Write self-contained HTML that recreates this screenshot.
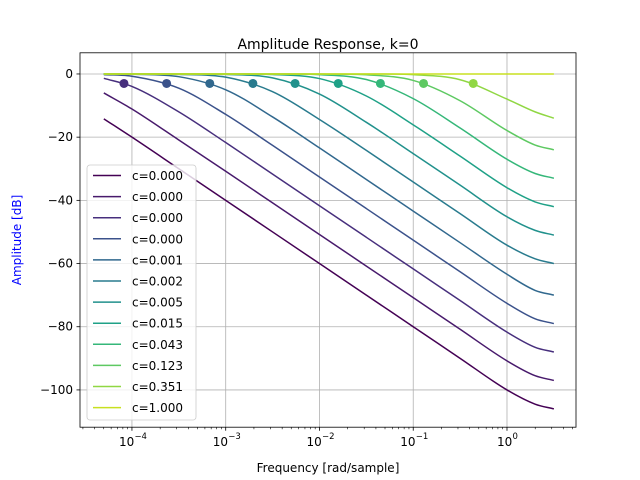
<!DOCTYPE html>
<html><head><meta charset="utf-8"><style>
body{margin:0;background:#fff;}
svg{display:block;font-family:"DejaVu Sans","Liberation Sans",sans-serif;}
</style></head><body>
<svg id="chart" width="640" height="480" xmlns="http://www.w3.org/2000/svg">
<rect width="640" height="480" fill="#fff"/>
<text x="328" y="49" text-anchor="middle" font-size="14">Amplitude Response, k=0</text>
<text x="328" y="472" text-anchor="middle" font-size="12">Frequency [rad/sample]</text>
<text x="0" y="0" transform="translate(21,240) rotate(-90)" text-anchor="middle" font-size="12" fill="#0000ff">Amplitude [dB]</text>
<g id="grid"></g><g id="series"></g><g id="axes"></g><g id="legend"></g>
</svg>
<script>
const logFreqs=[-4.3,-4,-3.5,-3,-2.5,-2,-1.5,-1,-0.5,0,0.3,0.5];
const s0=[-14.2,-20,-30,-40,-50,-60,-70,-80,-90,-100,-104.5,-106];
const s1=[-6,-11.1,-20.9,-30.8,-40.8,-50.8,-60.8,-70.8,-80.8,-90.8,-95.5,-97];
const s2=[-1.37,-3.94,-12,-21.7,-31.7,-41.7,-51.7,-61.7,-71.7,-81.7,-86.5,-88];
const s3=[-0.19,-0.72,-4.5,-12.8,-22.6,-32.6,-42.6,-52.6,-62.6,-72.6,-77.5,-79];
const s4=[0,-0.09,-0.86,-5,-13.6,-23.4,-33.4,-43.4,-53.4,-63.4,-68.5,-70];
const s5=[0,0,-0.11,-1,-5.6,-14.4,-24.2,-34.2,-44.2,-54.2,-58.5,-60];
const s6=[0,0,0,-0.14,-1.24,-6.35,-15.3,-25.2,-35.2,-45.2,-49.5,-51];
const s7=[0,0,0,0,-0.17,-1.46,-6.97,-16.1,-26,-36,-40.5,-42];
const s8=[0,0,0,0,-0.02,-0.21,-1.76,-7.8,-17.1,-27,-31.5,-33];
const s9=[0,0,0,0,0,-0.03,-0.26,-2.05,-8.47,-17.9,-22.5,-24];
const s10=[0,0,0,0,0,0,-0.02,-0.22,-1.83,-7.96,-12,-14];
const s11=[0,0,0,0,0,0,0,0,0,0,0,0];
const seriesValues=[s0,s1,s2,s3,s4,s5,s6,s7,s8,s9,s10,s11];
const seriesLabels=["c=0.000","c=0.000","c=0.000","c=0.000","c=0.001","c=0.002","c=0.005","c=0.015","c=0.043","c=0.123","c=0.351","c=1.000"];
const markerLogFreqs=[-4.085,-3.63,-3.17,-2.71,-2.26,-1.80,-1.35,-0.89,-0.36];
const markerDb=[-3,-3,-3,-3,-3,-3,-3,-3,-3];
const markerSeries=[2,3,4,5,6,7,8,9,10];
const yTicks=[0,-20,-40,-60,-80,-100];
const xTickExps=[-4,-3,-2,-1,0];
const colors=["#440154","#481a6c","#472f7d","#3b528b","#31688e","#297b8e","#21918c","#1fa187","#35b779","#5ec962","#90d743","#c8e020"];
const L=80,R=576,T=52.8,B=427.2;
const xMin=-4.554,xMax=0.736,yMin=-111.8,yMax=6.7;
const X=v=>L+(v-xMin)/(xMax-xMin)*(R-L);
const Y=v=>B-(v-yMin)/(yMax-yMin)*(B-T);
const NS="http://www.w3.org/2000/svg";
function mk(tag,attrs,parent){const e=document.createElementNS(NS,tag);for(const k in attrs)e.setAttribute(k,attrs[k]);parent.appendChild(e);return e;}
const grid=document.getElementById('grid'),ser=document.getElementById('series'),ax=document.getElementById('axes'),leg=document.getElementById('legend');
xTickExps.forEach(e=>{const g=mk('line',{x1:X(e),x2:X(e),y1:T,y2:B,stroke:'#b0b0b0','stroke-width':0.8},grid);
});
yTicks.forEach(v=>{const g=mk('line',{x1:L,x2:R,y1:Y(v),y2:Y(v),stroke:'#b0b0b0','stroke-width':0.8},grid);
});
function smoothPath(px,py){
  const n=px.length;const m=[];const dl=[];
  for(let i=0;i<n-1;i++)dl.push((py[i+1]-py[i])/(px[i+1]-px[i]));
  m[0]=dl[0];m[n-1]=dl[n-2];
  for(let i=1;i<n-1;i++){m[i]=(dl[i-1]*dl[i]<=0)?0:(dl[i-1]+dl[i])/2;}
  for(let i=0;i<n-1;i++){if(dl[i]===0){m[i]=0;m[i+1]=0;}}
  let d='M'+px[0].toFixed(2)+','+py[0].toFixed(2);
  for(let i=0;i<n-1;i++){const h=px[i+1]-px[i];
    d+=' C'+(px[i]+h/3).toFixed(2)+','+(py[i]+m[i]*h/3).toFixed(2)+' '+(px[i+1]-h/3).toFixed(2)+','+(py[i+1]-m[i+1]*h/3).toFixed(2)+' '+px[i+1].toFixed(2)+','+py[i+1].toFixed(2);}
  return d;}
seriesValues.forEach((vals,i)=>{const px=logFreqs.map(X),py=vals.map(Y);
const p=mk('path',{d:smoothPath(px,py),fill:'none',stroke:colors[i],'stroke-width':1.5},ser);
});
markerLogFreqs.forEach((f,i)=>{const c=mk('circle',{cx:X(f),cy:Y(markerDb[i]),r:4.5,fill:colors[markerSeries[i]]},ser);
});
mk('rect',{x:L,y:T,width:R-L,height:B-T,fill:'none',stroke:'#000','stroke-width':0.8},ax);
yTicks.forEach(v=>{mk('line',{x1:L-3.5,x2:L,y1:Y(v),y2:Y(v),stroke:'#000','stroke-width':0.8},ax);
const t=mk('text',{x:L-7,y:Y(v)+4,'text-anchor':'end','font-size':12},ax);t.textContent=v<0?'\u2212'+(-v):String(v);
});
for(let e=-5;e<=0;e++){for(let m=2;m<=9;m++){const lv=e+Math.log10(m);if(lv<xMin||lv>xMax)continue;
mk('line',{x1:X(lv),x2:X(lv),y1:B,y2:B+2,stroke:'#000','stroke-width':0.6},ax);}}
xTickExps.forEach(e=>{mk('line',{x1:X(e),x2:X(e),y1:B,y2:B+3.5,stroke:'#000','stroke-width':0.8},ax);
const x0=X(e)+(e<0?-13:-10);
const t=mk('text',{x:x0,y:B+19,'text-anchor':'start','font-size':12},ax);t.textContent='10';

const s=mk('text',{x:x0+15.5,y:B+12,'text-anchor':'start','font-size':8.5},ax);s.textContent=e<0?'\u2212'+(-e):String(e);
});
const lb=mk('rect',{x:87,y:165,width:109,height:255,rx:3,fill:'#fff','fill-opacity':0.8,stroke:'#ccc','stroke-width':0.8},leg);

seriesLabels.forEach((s,i)=>{const y=175.5+i*21.1;const g=mk('g',{},leg);

mk('line',{x1:93,x2:121,y1:y,y2:y,stroke:colors[i],'stroke-width':1.5},g);
const t=mk('text',{x:132,y:y+4.5,'font-size':12},g);t.textContent=s;});
</script>
</body></html>
